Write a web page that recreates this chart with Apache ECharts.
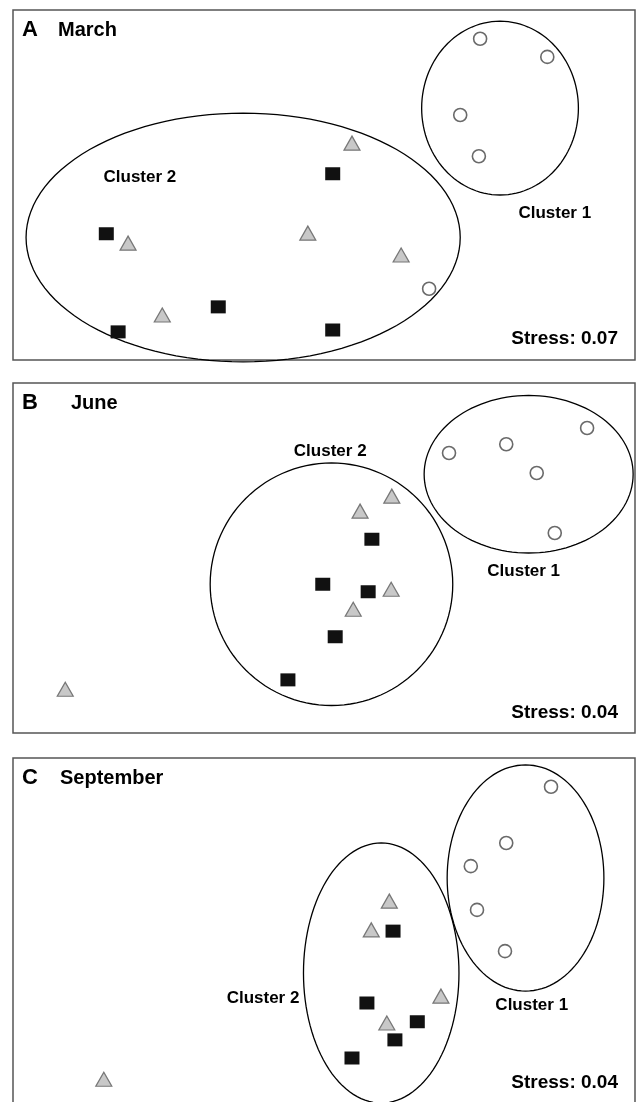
<!DOCTYPE html>
<html>
<head>
<meta charset="utf-8">
<style>
  html, body { margin: 0; padding: 0; background: #ffffff; }
  #chart { width: 639px; height: 1102px; }
</style>
<script src="https://cdn.jsdelivr.net/npm/echarts@6/dist/echarts.min.js"></script>
</head>
<body>
<div id="chart"></div>
<script>
// NMDS ordination of sampling sites, one panel per sampling month.
// Coordinates are in ordination units (x 0-100, y 0-56 per panel).
const panelLetters = ['A', 'B', 'C'];
const months = ['March', 'June', 'September'];
const stressValues = ['0.07', '0.04', '0.04'];

// Open circles
const circlesMarch = [[75.1, 51.4], [85.9, 48.5], [71.9, 39.2], [74.9, 32.6], [66.9, 11.4]];
const circlesJune = [[70.1, 44.8], [79.3, 46.2], [92.3, 48.8], [84.2, 41.6], [87.1, 32.0]];
const circlesSept = [[86.5, 51.4], [79.3, 42.4], [73.6, 38.7], [74.6, 31.7], [79.1, 25.1]];

// Grey triangles
const trianglesMarch = [[54.5, 34.7], [18.5, 18.7], [47.4, 20.3], [24.0, 7.2], [62.4, 16.8]];
const trianglesJune = [[60.9, 37.9], [55.8, 35.5], [60.8, 23.0], [54.7, 19.8], [8.4, 7.0]];
const trianglesSept = [[60.5, 33.1], [57.6, 28.5], [68.8, 17.9], [60.1, 13.6], [14.6, 4.6]];

// Black squares
const squaresMarch = [[15.0, 20.2], [33.0, 8.5], [16.9, 4.5], [51.4, 29.8], [51.4, 4.8]];
const squaresJune = [[57.7, 31.0], [49.8, 23.8], [57.1, 22.6], [51.8, 15.4], [44.2, 8.5]];
const squaresSept = [[61.1, 28.3], [56.9, 16.8], [65.0, 13.8], [61.4, 10.9], [54.5, 8.0]];

// Cluster outlines: [centre x, centre y, radius x, radius y]
const clustersMarch = [[37.0, 19.6, 34.9, 19.9], [78.3, 40.3, 12.6, 13.9]];
const clustersJune = [[51.2, 23.8, 19.5, 19.4], [82.9, 41.4, 16.8, 12.6]];
const clustersSept = [[59.2, 21.6, 12.5, 20.8], [82.4, 36.8, 12.6, 18.1]];

// Cluster captions: [x, y, text]
const clusterLabelsMarch = [[20.4, 29.3, 'Cluster 2'], [87.1, 23.5, 'Cluster 1']];
const clusterLabelsJune = [[51.0, 45.0, 'Cluster 2'], [82.1, 25.8, 'Cluster 1']];
const clusterLabelsSept = [[40.2, 17.6, 'Cluster 2'], [83.4, 16.5, 'Cluster 1']];

const FONT = '"Liberation Sans", Arial, Helvetica, sans-serif';

// The last panel is cut by the bottom of the page: its plotting area stops at
// the page edge (y axis starting just above zero keeps the common scale) and
// its frame is drawn past the edge so no bottom line shows.
const panels = [
  { top: 10, height: 350, yMin: 0, frameH: 350, circles: circlesMarch, triangles: trianglesMarch,
    squares: squaresMarch, clusters: clustersMarch, labels: clusterLabelsMarch },
  { top: 383, height: 350, yMin: 0, frameH: 350, circles: circlesJune, triangles: trianglesJune,
    squares: squaresJune, clusters: clustersJune, labels: clusterLabelsJune },
  { top: 758, height: 344, yMin: 0.96, frameH: 370, circles: circlesSept, triangles: trianglesSept,
    squares: squaresSept, clusters: clustersSept, labels: clusterLabelsSept }
];

const grids = [], xAxes = [], yAxes = [], series = [], graphics = [];

function ellipseRender(params, api) {
  const cx = api.value(0), cy = api.value(1), rx = api.value(2), ry = api.value(3);
  const pts = [];
  const N = 120;
  for (let i = 0; i < N; i++) {
    const t = (2 * Math.PI * i) / N;
    pts.push(api.coord([cx + rx * Math.cos(t), cy + ry * Math.sin(t)]));
  }
  return {
    type: 'polygon',
    shape: { points: pts },
    style: { fill: 'none', stroke: '#000000', lineWidth: 1.3 }
  };
}

function makeLabelRender(labels) {
  return function (params, api) {
    const p = api.coord([api.value(0), api.value(1)]);
    return {
      type: 'text',
      x: p[0], y: p[1],
      style: {
        text: labels[params.dataIndex][2],
        fill: '#000', font: 'bold 17px ' + FONT,
        textAlign: 'center', textVerticalAlign: 'middle'
      }
    };
  };
}

panels.forEach((p, i) => {
  grids.push({ left: 13, top: p.top, width: 622, height: p.height, show: false });
  xAxes.push({ gridIndex: i, type: 'value', min: 0, max: 100, show: false });
  yAxes.push({ gridIndex: i, type: 'value', min: p.yMin, max: 56, show: false });

  series.push({
    type: 'custom', xAxisIndex: i, yAxisIndex: i, clip: false, silent: true,
    data: p.clusters, renderItem: ellipseRender, z: 2
  });
  series.push({
    type: 'scatter', xAxisIndex: i, yAxisIndex: i, data: p.circles, silent: true,
    symbol: 'circle', symbolSize: 13, z: 3,
    itemStyle: { color: '#ffffff', borderColor: '#6a6a6a', borderWidth: 1.6, opacity: 1 }
  });
  series.push({
    type: 'scatter', xAxisIndex: i, yAxisIndex: i, data: p.triangles, silent: true,
    symbol: 'triangle', symbolSize: [16, 14], z: 3,
    itemStyle: { color: '#c8c8c8', borderColor: '#777777', borderWidth: 1.2, opacity: 1 }
  });
  series.push({
    type: 'scatter', xAxisIndex: i, yAxisIndex: i, data: p.squares, silent: true,
    symbol: 'rect', symbolSize: [15, 13], z: 3,
    itemStyle: { color: '#111111', opacity: 1 }
  });
  series.push({
    type: 'custom', xAxisIndex: i, yAxisIndex: i, clip: false, silent: true,
    data: p.labels.map(l => [l[0], l[1]]), z: 4,
    renderItem: makeLabelRender(p.labels)
  });

  // Panel frame
  graphics.push({
    type: 'rect', silent: true, z: 1,
    shape: { x: 13, y: p.top, width: 622, height: p.frameH },
    style: { fill: 'none', stroke: '#555555', lineWidth: 1.5 }
  });

  // Panel letter, month and stress caption
  const headY = p.top + 20;
  graphics.push({
    type: 'text', left: 22, top: headY - 11,
    style: { text: panelLetters[i], font: 'bold 22px ' + FONT, fill: '#000' }
  });
  graphics.push({
    type: 'text', left: [58, 71, 60][i], top: headY - 10,
    style: { text: months[i], font: 'bold 20px ' + FONT, fill: '#000' }
  });
  graphics.push({
    type: 'text', right: 639 - 618, top: [339, 713, 1083][i] - 10,
    style: { text: 'Stress: ' + stressValues[i], font: 'bold 19px ' + FONT, fill: '#000' }
  });
});

const chart = echarts.init(document.getElementById('chart'), null, { renderer: 'canvas' });
chart.setOption({
  animation: false,
  backgroundColor: '#ffffff',
  grid: grids,
  xAxis: xAxes,
  yAxis: yAxes,
  series: series,
  graphic: graphics
});
</script>
</body>
</html>
